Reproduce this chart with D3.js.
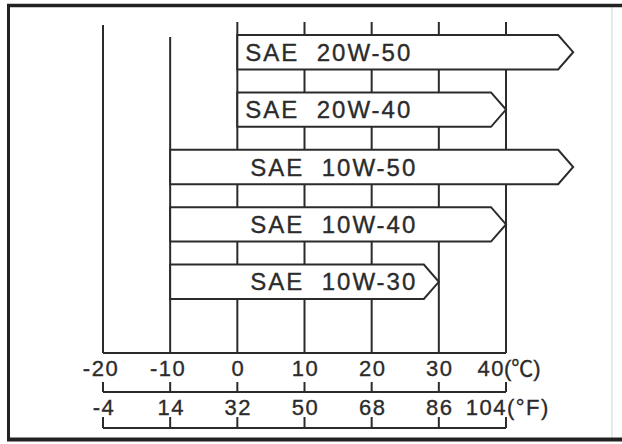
<!DOCTYPE html>
<html>
<head>
<meta charset="utf-8">
<script src="https://cdn.jsdelivr.net/npm/d3@7/dist/d3.min.js"></script>
<style>
  html, body { margin: 0; padding: 0; background: #fff; }
  svg { display: block; }
  text { font-family: "Liberation Sans", Arial, "Noto Sans CJK SC", sans-serif; fill: #2b2b2b; stroke: #2b2b2b; stroke-width: 0.35; }
</style>
</head>
<body>
<svg id="chart" width="622" height="444"></svg>
<script>
// Oil viscosity grades and their usable ambient temperature ranges (°C)
const grades = ["SAE  20W-50", "SAE  20W-40", "SAE  10W-50", "SAE  10W-40", "SAE  10W-30"];
const lowC = [0, 0, -10, -10, -10];
const highC = [50, 40, 50, 40, 30];

// Scale labels
const celsiusTicks = [-20, -10, 0, 10, 20, 30, 40];
const fahrenheitTicks = [-4, 14, 32, 50, 68, 86, 104];
const celsiusUnit = "(℃)";
const fahrenheitUnit = "(°F)";

const ink = "#2b2b2b";
const svg = d3.select("#chart");

const x = d3.scaleLinear().domain([-20, 40]).range([103, 506]);
const xF = d3.scaleLinear().domain([-4, 104]).range([103, 506]);
const y = d3.scaleBand().domain(grades).range([35, 299]).paddingInner(0.4);

const axisY = 353;   // baseline of the grid
const cAxisY = 392;  // Celsius scale bar
const fAxisY = 428;  // Fahrenheit scale bar

// Frame
svg.append("rect").attr("x", 0).attr("y", 0).attr("width", 622).attr("height", 444).attr("fill", "#fff");
svg.append("line").attr("x1", 612).attr("x2", 612).attr("y1", 6).attr("y2", 438)
  .attr("stroke", "#e2e2e2").attr("stroke-width", 1.5);
svg.append("line").attr("x1", 7).attr("x2", 622).attr("y1", 5.5).attr("y2", 5.5)
  .attr("stroke", "#222").attr("stroke-width", 3.5);
svg.append("line").attr("x1", 8.5).attr("x2", 8.5).attr("y1", 4).attr("y2", 441)
  .attr("stroke", "#222").attr("stroke-width", 3);
svg.append("line").attr("x1", 7).attr("x2", 622).attr("y1", 439.5).attr("y2", 439.5)
  .attr("stroke", "#222").attr("stroke-width", 4);

// Vertical temperature guide lines
svg.append("g").selectAll("line").data(celsiusTicks).join("line")
  .attr("x1", d => x(d)).attr("x2", d => x(d))
  .attr("y1", d => d === -10 ? 37 : (d === -20 ? 25 : 22))
  .attr("y2", axisY)
  .attr("stroke", ink).attr("stroke-width", 2);

svg.append("line")
  .attr("x1", x(-20)).attr("x2", x(40)).attr("y1", axisY).attr("y2", axisY)
  .attr("stroke", ink).attr("stroke-width", 2);

// Grade bars with arrow heads pointing to the upper temperature limit
const head = 15;
const bars = svg.append("g").selectAll("g").data(grades).join("g");
bars.append("path")
  .attr("d", (d, i) => {
    const x0 = x(lowC[i]), x1 = x(highC[i]);
    const t = y(d), b = y(d) + y.bandwidth(), m = y(d) + y.bandwidth() / 2;
    return `M${x0},${t}L${x1 - head},${t}L${x1},${m}L${x1 - head},${b}L${x0},${b}Z`;
  })
  .attr("fill", "#fff").attr("stroke", ink).attr("stroke-width", 2)
  .attr("stroke-linejoin", "miter");
bars.append("text")
  .attr("x", (d, i) => x(0) + (lowC[i] < 0 ? 13 : 8))
  .attr("y", d => y(d) + y.bandwidth() / 2 + 8.5)
  .attr("font-size", 24)
  .attr("letter-spacing", 2)
  .style("white-space", "pre")
  .text(d => d);

// Celsius scale
svg.append("line").attr("x1", x(-20)).attr("x2", x(40)).attr("y1", cAxisY).attr("y2", cAxisY)
  .attr("stroke", ink).attr("stroke-width", 2);
svg.append("g").selectAll("line").data(celsiusTicks).join("line")
  .attr("x1", d => x(d)).attr("x2", d => x(d))
  .attr("y1", cAxisY - 10).attr("y2", cAxisY)
  .attr("stroke", ink).attr("stroke-width", 2);
svg.append("g").selectAll("text").data(celsiusTicks).join("text")
  .attr("x", (d, i) => i === celsiusTicks.length - 1 ? x(d) - 1 : x(d) + (d < 0 ? -2 : 1))
  .attr("y", 376)
  .attr("font-size", 22)
  .attr("letter-spacing", 1.5)
  .attr("text-anchor", (d, i) => i === celsiusTicks.length - 1 ? "end" : "middle")
  .text(d => d);
svg.append("text").attr("x", x(40) - 2).attr("y", 376)
  .attr("font-size", 22)
  .text(celsiusUnit);

// Fahrenheit scale
svg.append("line").attr("x1", xF(-4)).attr("x2", xF(104)).attr("y1", fAxisY).attr("y2", fAxisY)
  .attr("stroke", ink).attr("stroke-width", 2);
svg.append("g").selectAll("line").data(fahrenheitTicks).join("line")
  .attr("x1", d => xF(d)).attr("x2", d => xF(d))
  .attr("y1", fAxisY - 11).attr("y2", fAxisY)
  .attr("stroke", ink).attr("stroke-width", 2);
svg.append("g").selectAll("text").data(fahrenheitTicks).join("text")
  .attr("x", (d, i) => i === fahrenheitTicks.length - 1 ? xF(d) + 1 : xF(d) + 1)
  .attr("y", 415)
  .attr("font-size", 22)
  .attr("letter-spacing", 1.5)
  .attr("text-anchor", (d, i) => i === fahrenheitTicks.length - 1 ? "end" : "middle")
  .text(d => d);
svg.append("text").attr("x", xF(104) + 1).attr("y", 415)
  .attr("font-size", 22)
  .attr("letter-spacing", 1.5)
  .text(fahrenheitUnit);
</script>
</body>
</html>
